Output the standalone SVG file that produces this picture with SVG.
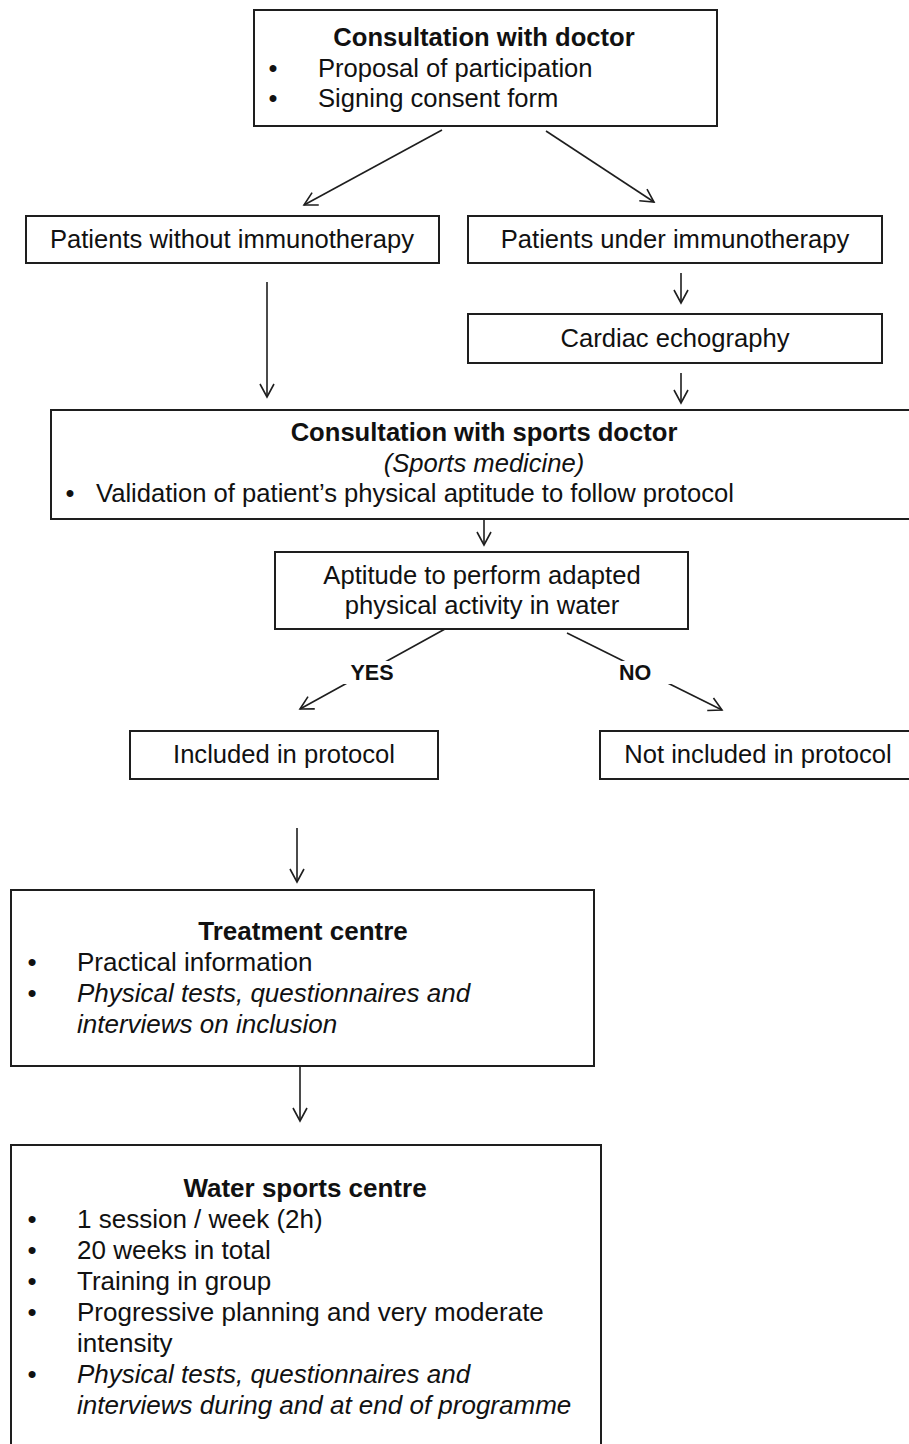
<svg xmlns="http://www.w3.org/2000/svg" width="909" height="1444" viewBox="0 0 909 1444">
<defs>
<style>
.box{fill:#fff;stroke:#1e1e1e;stroke-width:2}
.t{font-family:"Liberation Sans",Arial,sans-serif;font-size:25.6px;fill:#111}
.b{font-weight:bold}
.i{font-style:italic}
.c{text-anchor:middle}
.lo{font-size:26px}
.lbl{font-family:"Liberation Sans",Arial,sans-serif;font-size:21.5px;font-weight:bold;fill:#111;text-anchor:middle}
.ar{fill:none;stroke:#1e1e1e;stroke-width:1.6;marker-end:url(#ah)}
</style>
<marker id="ah" viewBox="0 0 16 16" refX="14" refY="8" markerWidth="16" markerHeight="16" markerUnits="userSpaceOnUse" orient="auto">
<path d="M1,1 L14,8 L1,15" fill="none" stroke="#1e1e1e" stroke-width="1.6"/>
</marker>
</defs>
<rect width="909" height="1444" fill="#fff"/>

<g id="connectors">
<line class="ar" x1="442" y1="130" x2="304" y2="205"/>
<line class="ar" x1="546" y1="131" x2="654" y2="202"/>
<line class="ar" x1="681" y1="273" x2="681" y2="303"/>
<line class="ar" x1="681" y1="373" x2="681" y2="403"/>
<line class="ar" x1="267" y1="282" x2="267" y2="397"/>
<line class="ar" x1="484" y1="520" x2="484" y2="545"/>
<line class="ar" x1="445" y1="629" x2="300" y2="709"/>
<line class="ar" x1="567" y1="633" x2="722" y2="710"/>
<rect x="342" y="661" width="74" height="23" fill="#fff"/>
<text class="lbl" x="372" y="680">YES</text>
<rect x="594" y="661" width="78" height="23" fill="#fff"/>
<text class="lbl" x="635" y="680">NO</text>
<line class="ar" x1="297" y1="828" x2="297" y2="882"/>
<line class="ar" x1="300" y1="1066" x2="300" y2="1121"/>
</g>

<g id="consultation-doctor">
<rect class="box" x="254" y="10" width="463" height="116"/>
<text class="t b c" x="484" y="46">Consultation with doctor</text>
<text class="t c" x="273" y="77">•</text>
<text class="t" x="318" y="77">Proposal of participation</text>
<text class="t c" x="273" y="107">•</text>
<text class="t" x="318" y="107">Signing consent form</text>
</g>

<g id="patients-without">
<rect class="box" x="26" y="216" width="413" height="47"/>
<text class="t c" x="232" y="248">Patients without immunotherapy</text>
</g>

<g id="patients-under">
<rect class="box" x="468" y="216" width="414" height="47"/>
<text class="t c" x="675" y="248">Patients under immunotherapy</text>
</g>

<g id="cardiac">
<rect class="box" x="468" y="314" width="414" height="49"/>
<text class="t c" x="675" y="347">Cardiac echography</text>
</g>

<g id="sports-doctor">
<rect class="box" x="51" y="410" width="870" height="109"/>
<text class="t b c" x="484" y="441">Consultation with sports doctor</text>
<text class="t i c" x="484" y="472">(Sports medicine)</text>
<text class="t c" x="70" y="502">•</text>
<text class="t" x="96" y="502">Validation of patient’s physical aptitude to follow protocol</text>
</g>

<g id="aptitude">
<rect class="box" x="275" y="552" width="413" height="77"/>
<text class="t c" x="482" y="584">Aptitude to perform adapted</text>
<text class="t c" x="482" y="614">physical activity in water</text>
</g>

<g id="included">
<rect class="box" x="130" y="731" width="308" height="48"/>
<text class="t c" x="284" y="763">Included in protocol</text>
</g>

<g id="not-included">
<rect class="box" x="600" y="731" width="320" height="48"/>
<text class="t c" x="758" y="763">Not included in protocol</text>
</g>

<g id="treatment-centre">
<rect class="box" x="11" y="890" width="583" height="176"/>
<text class="t lo b c" x="303" y="940">Treatment centre</text>
<text class="t lo c" x="32" y="971">•</text>
<text class="t lo" x="77" y="971">Practical information</text>
<text class="t lo c" x="32" y="1002">•</text>
<text class="t lo i" x="77" y="1002">Physical tests, questionnaires and</text>
<text class="t lo i" x="77" y="1033">interviews on inclusion</text>
</g>

<g id="water-sports-centre">
<rect class="box" x="11" y="1145" width="590" height="320"/>
<text class="t lo b c" x="305" y="1197">Water sports centre</text>
<text class="t lo c" x="32" y="1228">•</text>
<text class="t lo" x="77" y="1228">1 session / week (2h)</text>
<text class="t lo c" x="32" y="1259">•</text>
<text class="t lo" x="77" y="1259">20 weeks in total</text>
<text class="t lo c" x="32" y="1290">•</text>
<text class="t lo" x="77" y="1290">Training in group</text>
<text class="t lo c" x="32" y="1321">•</text>
<text class="t lo" x="77" y="1321">Progressive planning and very moderate</text>
<text class="t lo" x="77" y="1352">intensity</text>
<text class="t lo c" x="32" y="1383">•</text>
<text class="t lo i" x="77" y="1383">Physical tests, questionnaires and</text>
<text class="t lo i" x="77" y="1414">interviews during and at end of programme</text>
</g>
</svg>
